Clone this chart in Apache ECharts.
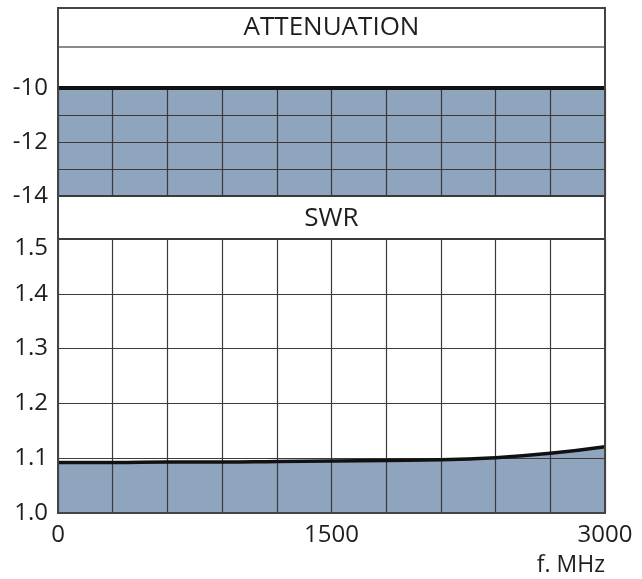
<!DOCTYPE html>
<html><head><meta charset="utf-8">
<script src="https://cdn.jsdelivr.net/npm/echarts@6/dist/echarts.min.js"></script>
<style>html,body{margin:0;padding:0;background:#fff}#c{width:642px;height:579px}</style>
</head><body><div id="c"></div>
<script>
const freq = [0, 300, 600, 900, 1200, 1500, 1800, 2100, 2400, 2700, 3000];
const attenuation = [-10, -10, -10, -10, -10, -10, -10, -10, -10, -10, -10];
const swr = [1.092, 1.092, 1.093, 1.093, 1.094, 1.095, 1.096, 1.097, 1.101, 1.109, 1.121];
const attTickLabels = [-10, -12, -14];
const swrTickLabels = [1.0, 1.1, 1.2, 1.3, 1.4, 1.5];
const freqTickLabels = [0, 1500, 3000];

const FILL = '#8fa4bd';
const FONT = 'Open Sans';
const TXT = '#1e1e1e';
const chart = echarts.init(document.getElementById('c'), null, {renderer: 'canvas'});

const L = 58, R = 37, W = 642 - L - R;
const gridLine = {show: true, lineStyle: {color: '#3a3a3a', width: 1.2}};
chart.setOption({
  animation: false,
  grid: [
    {left: L, right: R, top: 88, height: 108},
    {left: L, right: R, top: 239, height: 274}
  ],
  xAxis: [
    {type: 'value', gridIndex: 0, min: 0, max: 3000, interval: 300, z: 5,
     axisLine: {show: false}, axisTick: {show: false}, axisLabel: {show: false},
     splitLine: gridLine},
    {type: 'value', gridIndex: 1, min: 0, max: 3000, interval: 300, z: 5,
     axisLine: {show: false}, axisTick: {show: false},
     axisLabel: {show: true, fontFamily: FONT, fontSize: 24, color: TXT, margin: 10,
       formatter: v => freqTickLabels.includes(v) ? String(v) : ''},
     splitLine: gridLine}
  ],
  yAxis: [
    {type: 'value', gridIndex: 0, min: -14, max: -10, interval: 1, z: 5,
     axisLine: {show: false}, axisTick: {show: false},
     axisLabel: {fontFamily: FONT, fontSize: 24, color: TXT, margin: 10,
       formatter: v => attTickLabels.includes(v) ? String(v) : ''},
     splitLine: gridLine},
    {type: 'value', gridIndex: 1, min: 1.0, max: 1.5, interval: 0.1, z: 5,
     axisLine: {show: false}, axisTick: {show: false},
     axisLabel: {fontFamily: FONT, fontSize: 24, color: TXT, margin: 10,
       formatter: v => {
         const r = Math.round(v * 10) / 10;
         if (!swrTickLabels.includes(r)) return '';
         return r === 1.5 ? '{top|' + r.toFixed(1) + '}' : r.toFixed(1);
       },
       rich: {top: {fontFamily: FONT, fontSize: 24, color: TXT, padding: [18, 0, 0, 0]}}},
     splitLine: gridLine}
  ],
  series: [
    {type: 'line', xAxisIndex: 0, yAxisIndex: 0, data: freq.map((f, i) => [f, attenuation[i]]),
     showSymbol: false, clip: false, z: 1,
     lineStyle: {width: 0},
     areaStyle: {color: FILL, opacity: 1, origin: 'start'}},
    {type: 'line', xAxisIndex: 0, yAxisIndex: 0, data: freq.map((f, i) => [f, attenuation[i]]),
     showSymbol: false, clip: false, z: 10,
     lineStyle: {color: '#111', width: 4}},
    {type: 'line', xAxisIndex: 1, yAxisIndex: 1, data: freq.map((f, i) => [f, swr[i]]),
     showSymbol: false, smooth: true, z: 1,
     lineStyle: {width: 0},
     areaStyle: {color: FILL, opacity: 1, origin: 'start'}},
    {type: 'line', xAxisIndex: 1, yAxisIndex: 1, data: freq.map((f, i) => [f, swr[i]]),
     showSymbol: false, smooth: true, z: 10,
     lineStyle: {color: '#111', width: 3.5}}
  ],
  graphic: [
    {type: 'rect', shape: {x: L, y: 8, width: W, height: 39}, style: {fill: '#fff', stroke: '#666', lineWidth: 1.5}, z: 10},
    {type: 'rect', shape: {x: L, y: 47, width: W, height: 41}, style: {fill: '#fff', stroke: null}, z: 0},
    {type: 'text', x: L + W / 2, y: 28, style: {text: 'ATTENUATION', fontFamily: FONT, fontSize: 26, fill: TXT, align: 'center', verticalAlign: 'middle'}, z: 11},
    {type: 'rect', shape: {x: L, y: 196, width: W, height: 43}, style: {fill: '#fff', stroke: '#3a3a3a', lineWidth: 2}, z: 10},
    {type: 'text', x: L + W / 2, y: 219, style: {text: 'SWR', fontFamily: FONT, fontSize: 26, fill: TXT, align: 'center', verticalAlign: 'middle'}, z: 11},
    {type: 'rect', shape: {x: L, y: 8, width: W, height: 505}, style: {fill: null, stroke: '#444', lineWidth: 2}, z: 12},
    {type: 'text', x: L + W, y: 565, style: {text: 'f. MHz', fontFamily: FONT, fontSize: 23, fill: TXT, align: 'right', verticalAlign: 'middle'}, z: 11}
  ]
});
</script></body></html>
